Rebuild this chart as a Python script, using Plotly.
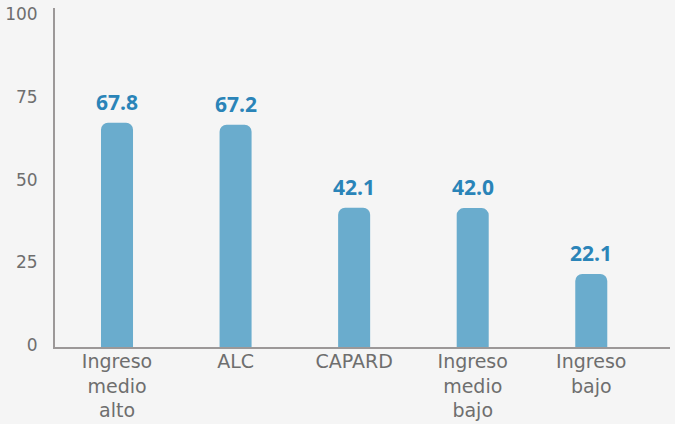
import plotly.graph_objects as go

categories = ["Ingreso<br>medio<br>alto", "ALC", "CAPARD", "Ingreso<br>medio<br>bajo", "Ingreso<br>bajo"]
values = [67.8, 67.2, 42.1, 42.0, 22.1]
value_labels = ["67.8", "67.2", "42.1", "42.0", "22.1"]
y_ticks = [0, 25, 50, 75, 100]

BAR = "#6aaccd"
LBL = "#2a84b8"
BG = "#f5f5f5"
AXIS = "#9c9898"
TICK = "#6e6e6e"
FONT = "DejaVu Sans"

fig = go.Figure()
fig.add_trace(go.Bar(
    x=list(range(len(categories))), y=values,
    width=0.27,
    marker=dict(color=BAR, cornerradius=7, line=dict(width=0)),
    hoverinfo="skip",
))

for i, (v, t) in enumerate(zip(values, value_labels)):
    fig.add_annotation(x=i, y=v, text="<b>" + t + "</b>", showarrow=False,
                       yanchor="bottom", yshift=5,
                       font=dict(family="Open Sans", size=21, color=LBL))

fig.update_layout(
    width=675, height=424,
    margin=dict(l=55, r=5, t=8, b=77),
    paper_bgcolor=BG, plot_bgcolor=BG,
    showlegend=False,
    xaxis=dict(
        tickmode="array", tickvals=list(range(len(categories))), ticktext=categories,
        range=[-0.523, 4.664],
        showline=True, linecolor=AXIS, linewidth=2,
        showgrid=False, zeroline=False, ticks="",
        ticklabelstandoff=-4, automargin=False,
        tickfont=dict(family=FONT, size=19, color=TICK),
    ),
    yaxis=dict(
        range=[0, 102.5], tickvals=y_ticks,
        showline=True, linecolor=AXIS, linewidth=2,
        showgrid=False, zeroline=False, ticks="",
        ticklabelstandoff=12, ticklabelshift=-2, automargin=False,
        tickfont=dict(family=FONT, size=17, color=TICK),
    ),
)

fig.write_html("out.html", config={"displayModeBar": False},
               post_script="document.body.style.margin='0';")
